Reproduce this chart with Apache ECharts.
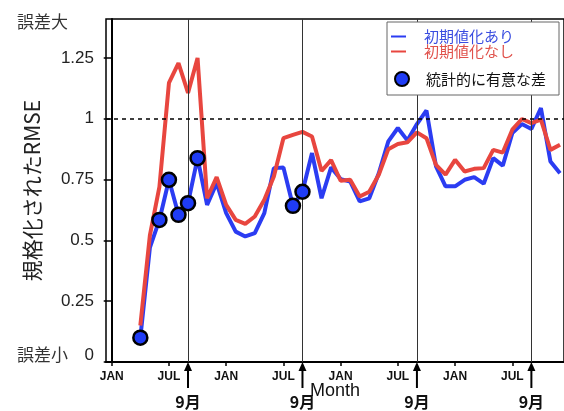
<!DOCTYPE html>
<html>
<head>
<meta charset="utf-8">
<script src="https://cdn.jsdelivr.net/npm/echarts@6/dist/echarts.min.js"></script>
<style>
html,body{margin:0;padding:0;background:#fff;}
#chart{width:564px;height:411px;}
</style>
</head>
<body>
<div id="chart"></div>
<script>
// month index: 0 = JAN of first year
const months = [3,4,5,6,7,8,9,10,11,12,13,14,15,16,17,18,19,20,21,22,23,24,25,26,27,28,29,30,31,32,33,34,35,36,37,38,39,40,41,42,43,44,45,46,47];
const blueRMSE = [0.10,0.47,0.584,0.749,0.605,0.653,0.838,0.646,0.735,0.612,0.536,0.516,0.53,0.612,0.797,0.80,0.642,0.70,0.859,0.673,0.80,0.752,0.742,0.66,0.673,0.776,0.907,0.962,0.911,0.978,1.034,0.804,0.722,0.722,0.749,0.76,0.733,0.838,0.807,0.941,0.978,0.958,1.044,0.824,0.776];
const redRMSE  = [0.15,0.52,0.72,1.147,1.229,1.106,1.25,0.673,0.76,0.646,0.584,0.568,0.598,0.667,0.763,0.92,0.934,0.946,0.927,0.785,0.83,0.745,0.749,0.68,0.70,0.77,0.875,0.896,0.903,0.944,0.92,0.81,0.77,0.831,0.783,0.794,0.797,0.872,0.861,0.955,0.999,0.982,0.996,0.872,0.893];
const sigMonths = [3,5,6,7,8,9,19,20];
const septMonths = [8,20,32,44];
const xTickMonths = [0,6,12,18,24,30,36,42];
const xTickLabels = ['JAN','JUL','JAN','JUL','JAN','JUL','JAN','JUL'];
const yTicks = [0,0.25,0.5,0.75,1,1.25];
const yTickLabels = ['0','0.25','0.5','0.75','1','1.25'];

const nameBlue = '初期値化あり';
const nameRed = '初期値化なし';
const nameSig = '統計的に有意な差';
const xTitle = 'Month';

const BLUE = '#2b3cf2';
const RED = '#e8463f';
const LATIN = "'Liberation Sans', Arial, sans-serif";
const CJK = "'Noto Sans CJK JP', 'Noto Sans', sans-serif";

const blueData = months.map((m, i) => [m, blueRMSE[i]]);
const redData = months.map((m, i) => [m, redRMSE[i]]);
const sigData = sigMonths.map(m => [m, blueRMSE[months.indexOf(m)]]);

const chart = echarts.init(document.getElementById('chart'), null, {renderer: 'canvas'});

const X_MIN = -0.6, X_MAX = 47.42;
const option = {
  animation: false,
  backgroundColor: '#fff',
  grid: {left: 106, top: 19, right: -2, bottom: 49, show: true, borderColor: '#000', borderWidth: 1.5, backgroundColor: 'transparent'},
  xAxis: {
    type: 'value', min: X_MIN, max: X_MAX,
    axisLine: {show: true, lineStyle: {color: '#000', width: 2}},
    axisTick: {show: true, customValues: xTickMonths, length: 4, lineStyle: {color: '#000', width: 1.5}},
    axisLabel: {
      customValues: xTickMonths, margin: 9,
      fontFamily: LATIN, fontSize: 12, fontWeight: 'bold', color: '#111',
      formatter: v => xTickLabels[xTickMonths.indexOf(v)]
    },
    splitLine: {show: false}
  },
  yAxis: {
    type: 'value', min: 0, max: 1.41,
    name: '規格化されたRMSE', nameLocation: 'middle', nameGap: 63, nameRotate: 90,
    nameTextStyle: {fontFamily: CJK, fontSize: 21, color: '#222'},
    axisLine: {show: true, lineStyle: {color: '#000', width: 2}},
    axisTick: {show: true, customValues: yTicks, length: 8, lineStyle: {color: '#000', width: 1.5}},
    axisLabel: {
      customValues: yTicks, margin: 12,
      fontFamily: LATIN, fontSize: 17, color: '#222',
      formatter: v => {
        const s = yTickLabels[yTicks.indexOf(v)];
        return v === 0 ? '{z|' + s + '}' : s;
      },
      rich: {z: {fontFamily: LATIN, fontSize: 17, color: '#222', padding: [0, 0, 14, 0]}}
    },
    splitLine: {show: false}
  },
  legend: [
    {
      orient: 'vertical', left: 391, top: 29, padding: 0, itemGap: 0, z: 20,
      icon: 'rect', itemWidth: 15, itemHeight: 2,
      data: [
        {name: nameBlue, textStyle: {color: '#3a4de0'}},
        {name: nameRed, textStyle: {color: '#e0514b'}}
      ],
      textStyle: {fontFamily: CJK, fontSize: 15, lineHeight: 15, padding: [0, 0, 0, 13]}
    },
    {
      orient: 'vertical', left: 394, top: 71, padding: 0, z: 20,
      icon: 'circle', itemWidth: 14, itemHeight: 14,
      data: [{name: nameSig}],
      textStyle: {fontFamily: CJK, fontSize: 15, lineHeight: 15, color: '#111', padding: [0, 0, 0, 12]}
    }
  ],
  series: [
    {
      type: 'line', name: 'ref', data: [], z: 1, silent: true,
      markLine: {
        silent: true, symbol: 'none', label: {show: false},
        data: septMonths.map(m => ({xAxis: m, lineStyle: {color: '#333', width: 1, type: 'solid'}}))
          .concat([{yAxis: 1, lineStyle: {color: '#000', width: 1.5, type: [4, 4]}}])
      }
    },
    {
      type: 'line', name: nameBlue, data: blueData, z: 3,
      showSymbol: false, symbol: 'none', color: BLUE,
      lineStyle: {color: BLUE, width: 4}, clip: true
    },
    {
      type: 'line', name: nameRed, data: redData, z: 4,
      showSymbol: false, symbol: 'none', color: RED,
      lineStyle: {color: RED, width: 4}, clip: true
    },
    {
      type: 'scatter', name: nameSig, data: sigData, z: 6,
      symbol: 'circle', symbolSize: 14,
      itemStyle: {color: '#1f3cf5', borderColor: '#000', borderWidth: 2.5, opacity: 1}
    }
  ]
};
chart.setOption(option);

// annotations drawn from the axis scale
const graphics = [
  {type: 'rect', z: 10, shape: {x: 387, y: 22, width: 172, height: 73},
   style: {fill: '#fff', stroke: '#666', lineWidth: 1}},
  {type: 'text', z: 10, style: {x: 68, y: 22, text: '誤差大', font: "17px 'Noto Sans CJK JP'", fill: '#333', align: 'right', verticalAlign: 'middle'}},
  {type: 'text', z: 10, style: {x: 68, y: 355, text: '誤差小', font: "17px 'Noto Sans CJK JP'", fill: '#333', align: 'right', verticalAlign: 'middle'}}
];
const yBase = chart.convertToPixel({yAxisIndex: 0}, 0);
const xMid = (chart.convertToPixel({xAxisIndex: 0}, X_MIN) + 564) / 2;
graphics.push({type: 'text', z: 11, style: {x: xMid, y: yBase + 29, text: xTitle, font: "18px 'Liberation Sans', Arial", fill: '#111', align: 'center', verticalAlign: 'middle'}});
septMonths.forEach(m => {
  const x = chart.convertToPixel({xAxisIndex: 0}, m);
  graphics.push({type: 'line', z: 10, shape: {x1: x, y1: yBase + 6, x2: x, y2: yBase + 26}, style: {stroke: '#000', lineWidth: 2}});
  graphics.push({type: 'polygon', z: 10, shape: {points: [[x, yBase], [x - 4, yBase + 9], [x + 4, yBase + 9]]}, style: {fill: '#000'}});
  graphics.push({type: 'text', z: 10, style: {x: x, y: yBase + 40, text: '9月', font: "bold 16px 'Noto Sans CJK JP'", fill: '#111', align: 'center', verticalAlign: 'middle'}});
});
chart.setOption({graphic: graphics});
</script>
</body>
</html>
